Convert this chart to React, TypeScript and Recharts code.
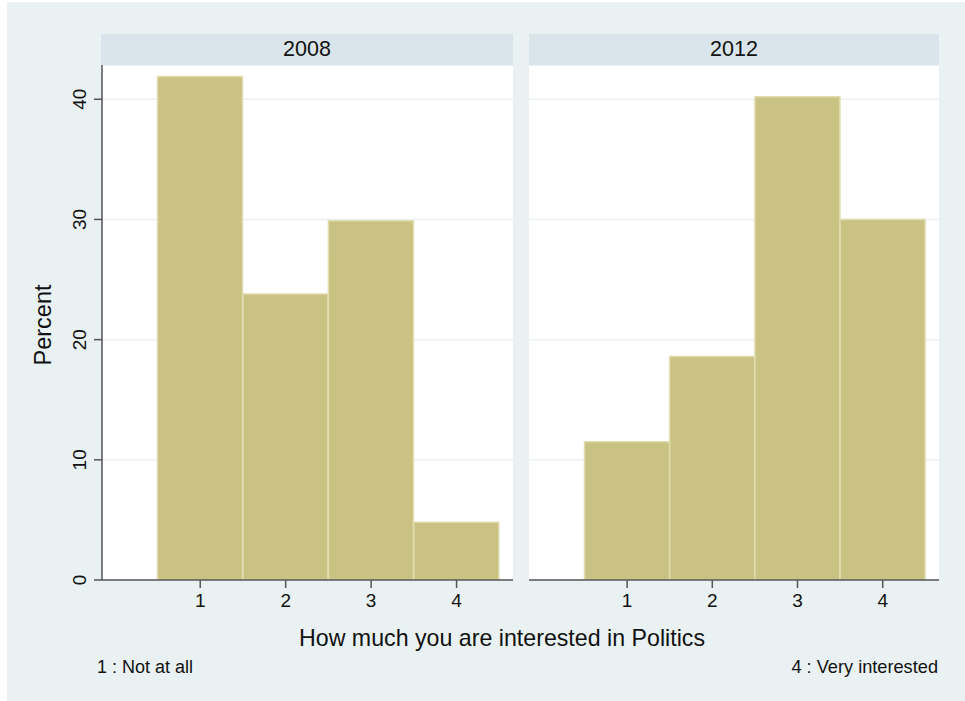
import React from "react"
import { BarChart, Bar, XAxis, YAxis, CartesianGrid } from "recharts"

const categories = ["1", "2", "3", "4"]
const pct2008 = [41.9, 23.8, 29.9, 4.8]
const pct2012 = [11.5, 18.6, 40.2, 30.0]
const yTicks = [0, 10, 20, 30, 40]
const panelTitles = ["2008", "2012"]

const FONT = '"Liberation Sans", Arial, Helvetica, sans-serif'
const BG = "#EAF1F3"
const HEADER = "#D9E5EA"
const BAR = "#C9C283"
const BAR_EDGE = "#E0DCAE"
const AXIS = "#555555"
const INK = "#111111"

const toRows = (values: number[]) => categories.map((c, i) => ({ cat: c, pct: values[i] }))

function YTick(props: any) {
  const { x, y, payload } = props
  const bx = x - 8
  return (
    <text
      x={bx}
      y={y}
      transform={`rotate(-90 ${bx} ${y})`}
      textAnchor="middle"
      fontSize={19}
      fontFamily={FONT}
      fill={INK}
    >
      {payload.value}
    </text>
  )
}

function Panel({ data, showY, width, left }: { data: any[]; showY: boolean; width: number; left: number }) {
  return (
    <div style={{ position: "absolute", left, top: 65 }}>
      <BarChart
        width={width}
        height={560}
        data={data}
        margin={{ top: 0, right: 0, bottom: 0, left: 0 }}
        barCategoryGap={0}
        barGap={0}
      >
        <CartesianGrid vertical={false} stroke={BG} strokeWidth={1.5} fill="#ffffff" />
        <XAxis
          dataKey="cat"
          padding={{ left: 55.5, right: 13.7 }}
          height={45}
          tickSize={8}
          tickMargin={6}
          axisLine={{ stroke: AXIS, strokeWidth: 1.5 }}
          tickLine={{ stroke: AXIS, strokeWidth: 1.5 }}
          tick={{ fontSize: 19, fontFamily: FONT, fill: INK }}
        />
        <YAxis
          domain={[0, 42.85]}
          ticks={yTicks}
          width={showY ? 102 : 0}
          hide={!showY}
          tickSize={8}
          tickMargin={0}
          axisLine={{ stroke: AXIS, strokeWidth: 1.5 }}
          tickLine={{ stroke: AXIS, strokeWidth: 1.5 }}
          tick={<YTick />}
          allowDataOverflow
        />
        <Bar dataKey="pct" fill={BAR} stroke={BAR_EDGE} strokeWidth={1.5} isAnimationActive={false} />
      </BarChart>
    </div>
  )
}

const textStyle: React.CSSProperties = {
  position: "absolute",
  fontFamily: FONT,
  color: INK,
  lineHeight: 1,
  whiteSpace: "nowrap",
}

export default function App() {
  return (
    <div style={{ position: "relative", width: 965, height: 701, background: "#ffffff", overflow: "hidden" }}>
      <style>{`body{margin:0}`}</style>
      <div style={{ position: "absolute", left: 7, top: 2, width: 958, height: 699, background: BG }} />

      {/* panel headers */}
      <div style={{ position: "absolute", left: 101, top: 34, width: 412, height: 31, background: HEADER }} />
      <div style={{ position: "absolute", left: 529, top: 34, width: 410, height: 31, background: HEADER }} />
      <div style={{ ...textStyle, left: 307, top: 50, fontSize: 21.5, transform: "translate(-50%, -50%)" }}>
        {panelTitles[0]}
      </div>
      <div style={{ ...textStyle, left: 734, top: 50, fontSize: 21.5, transform: "translate(-50%, -50%)" }}>
        {panelTitles[1]}
      </div>

      <Panel data={toRows(pct2008)} showY={true} width={513} left={0} />
      <Panel data={toRows(pct2012)} showY={false} width={410} left={529} />

      {/* axis titles and notes */}
      <div
        style={{
          ...textStyle,
          left: 44,
          top: 325,
          fontSize: 23.5,
          transform: "translate(-50%, -50%) rotate(-90deg)",
        }}
      >
        Percent
      </div>
      <div style={{ ...textStyle, left: 502, top: 639, fontSize: 23.2, transform: "translate(-50%, -50%)" }}>
        How much you are interested in Politics
      </div>
      <div style={{ ...textStyle, left: 97, top: 667, fontSize: 18, transform: "translate(0, -50%)" }}>
        1 : Not at all
      </div>
      <div style={{ ...textStyle, right: 965 - 938, top: 667, fontSize: 18.2, transform: "translate(0, -50%)" }}>
        4 : Very interested
      </div>
    </div>
  )
}
